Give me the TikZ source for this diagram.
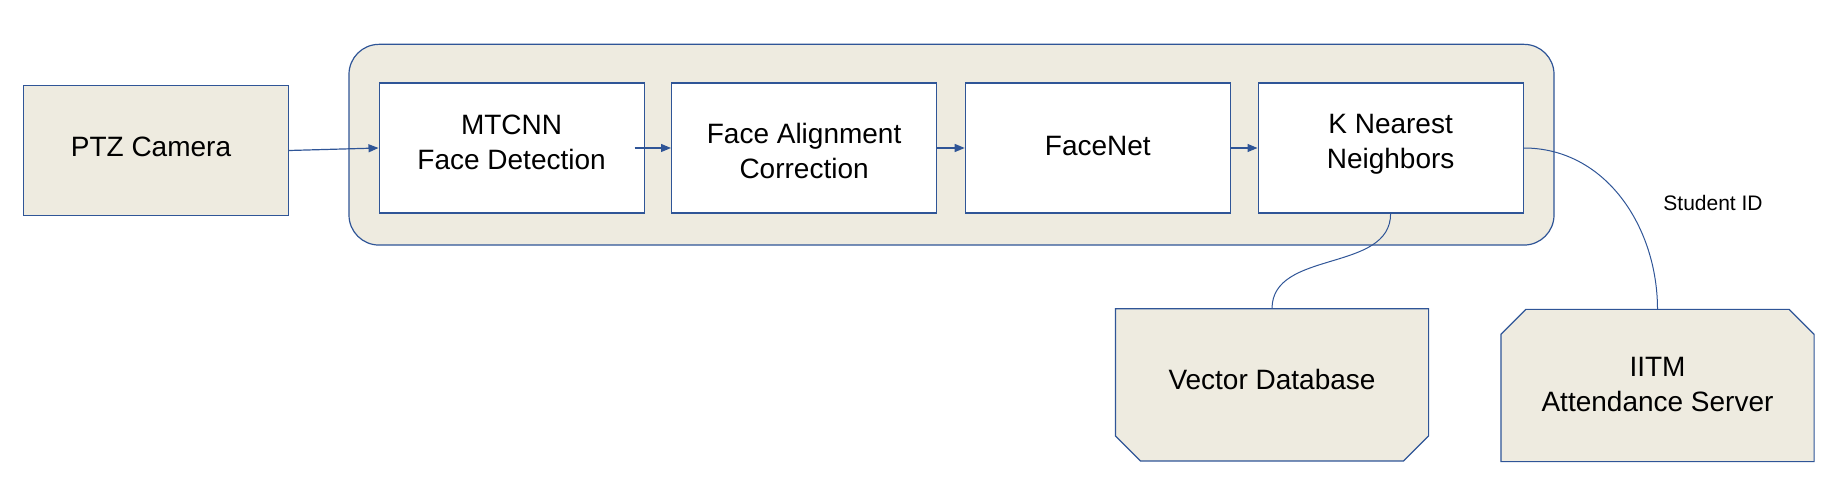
\documentclass[tikz,border=0pt]{standalone}
\usepackage{fontspec}
\setmainfont{Liberation Sans}
\usetikzlibrary{arrows.meta,backgrounds}
\definecolor{edge}{HTML}{2F5597}
\definecolor{sand}{HTML}{EEEBE0}
\begin{document}
\begin{tikzpicture}[x=1pt,y=1pt]
  \tikzstyle{box}=[draw=edge, line width=1.2pt, minimum width=265pt,
    minimum height=130pt, inner sep=0pt]
  \tikzstyle{txt}=[align=center, inner sep=0pt,
    font=\fontsize{28}{35}\selectfont]
  \tikzstyle{tan}=[box, fill=sand]
  \tikzstyle{stage}=[box, fill=white]
  \tikzstyle{store}=[box, draw=none, minimum width=312pt, minimum height=151pt]
  \tikzstyle{link}=[draw=edge, line width=1pt]
  \tikzstyle{flow}=[link, line width=1.2pt, -{Triangle[length=10pt,width=8pt]}]
  \tikzstyle{rim}=[draw=edge, fill=sand, line width=1.2pt]
  \useasboundingbox (0,0) rectangle (1844,498);
  \node[rim, rounded corners=30pt, minimum width=1205pt,
    minimum height=200.7pt] (pipe) at (951.5,353.3) {};
  \node[tan] (ptz) at (156,347.5) {};
  \node[txt] at ([xshift=-5pt,yshift=3.5pt]ptz) {PTZ Camera};
  \foreach \n/\x/\r/\t in {mt/511.6/5.5/{MTCNN\\Face Detection},
      fa/804.1/-3/{Face Alignment\\Correction}, fn/1097.8/2/{FaceNet},
      kn/1390.6/3.5/{K Nearest\\Neighbors}} {
    \node[stage] (\n) at (\x,350) {};
    \node[txt] at ([yshift=\r pt]\n) {\t};
  }
  \node[store] (vdb) at (1272,113.2) {};
  \node[txt] at ([yshift=5pt]vdb) {Vector Database};
  \node[store] (iitm) at (1657.5,112.5) {};
  \node[txt] at ([yshift=1pt]iitm) {IITM\\Attendance Server};
  \node[font=\fontsize{21}{25}\selectfont] (sid) at (1713,295.5) {Student ID};
  \begin{scope}[on background layer]
    \path[rim] (vdb.north west) -- (vdb.north east)
      -- ([yshift=25pt]vdb.south east) -- ([xshift=-25pt]vdb.south east)
      -- ([xshift=25pt]vdb.south west) -- ([yshift=25pt]vdb.south west)
      -- cycle;
    \path[rim] (iitm.south west) -- (iitm.south east)
      -- ([yshift=-25pt]iitm.north east) -- ([xshift=-25pt]iitm.north east)
      -- ([xshift=25pt]iitm.north west) -- ([yshift=-25pt]iitm.north west)
      -- cycle;
  \end{scope}
  \draw[flow] (ptz.east) -- (mt.west);
  \foreach \a/\b/\s in {mt/fa/-10,fa/fn/0,fn/kn/0}
    \draw[flow] ([xshift=\s pt]\a.east) -- (\b.west);
  \draw[link] (kn.south) to[out=-90,in=90] (vdb.north);
  \draw[link] (kn.east) to[out=0,in=90] (iitm.north);
\end{tikzpicture}
\end{document}
